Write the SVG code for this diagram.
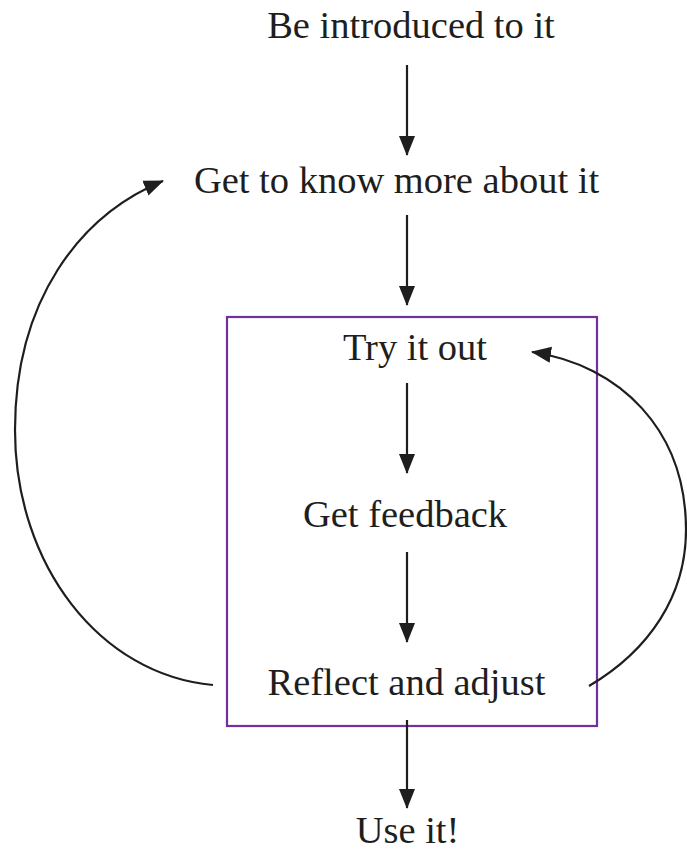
<svg xmlns="http://www.w3.org/2000/svg" width="687" height="851" viewBox="0 0 687 851">
<style>
.lbl{font-size:38.5px;fill:#1e1e1e;text-anchor:middle}
.edge{fill:none;stroke:#1e1e1e;stroke-width:2.2}
</style>
<defs>
<marker id="ah" markerUnits="userSpaceOnUse" markerWidth="20" markerHeight="18" viewBox="0 0 20 18" refX="19" refY="9" orient="auto">
<path d="M0,1 L20,9 L0,17 Z" fill="#1e1e1e"/>
</marker>
</defs>
<rect width="687" height="851" fill="#ffffff"/>
<g id="focus-box">
<rect x="227" y="317" width="370" height="409" fill="none" stroke="#7030a0" stroke-width="2.2"/>
</g>
<g font-family="'Liberation Serif', 'DejaVu Serif', serif">
<g id="n-introduced"><text class="lbl" x="411" y="38">Be introduced to it</text></g>
<g id="n-know"><text class="lbl" x="396.5" y="193">Get to know more about it</text></g>
<g id="n-try"><text class="lbl" x="415" y="360">Try it out</text></g>
<g id="n-feedback"><text class="lbl" x="405" y="527">Get feedback</text></g>
<g id="n-reflect"><text class="lbl" x="406.5" y="695">Reflect and adjust</text></g>
<g id="n-use"><text class="lbl" x="407.5" y="843">Use it!</text></g>
</g>
<g id="connectors">
<line class="edge" x1="407" y1="65" x2="407" y2="155" marker-end="url(#ah)"/>
<line class="edge" x1="407" y1="215" x2="407" y2="305" marker-end="url(#ah)"/>
<line class="edge" x1="407" y1="383" x2="407" y2="473" marker-end="url(#ah)"/>
<line class="edge" x1="407" y1="552" x2="407" y2="642" marker-end="url(#ah)"/>
<line class="edge" x1="407" y1="720" x2="407" y2="808" marker-end="url(#ah)"/>
<path class="edge" d="M213,685 C100,675 15,565 15,430 C15,300 80,215 163,181" marker-end="url(#ah)"/>
<path class="edge" d="M589,686 C650,650 686,595 686,530 C686,430 620,365 532,352" marker-end="url(#ah)"/>
</g>
</svg>
